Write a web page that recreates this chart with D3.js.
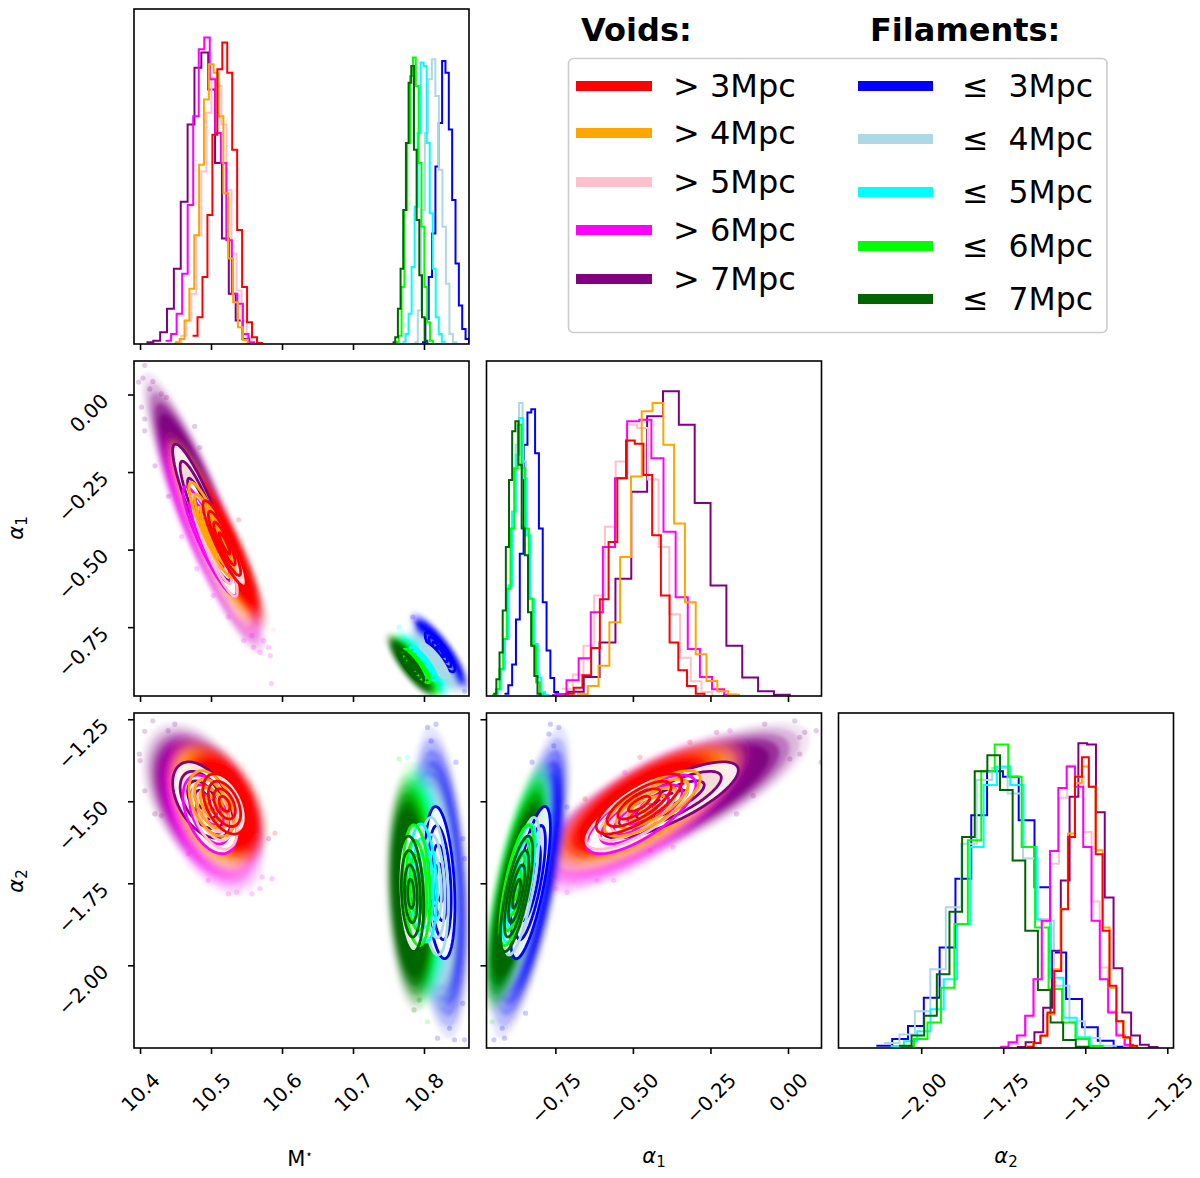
<!DOCTYPE html>
<head>
  <meta charset="utf-8">
  <script src="https://d3js.org/d3.v7.min.js"></script>
  <style>
    body { margin: 0; background: #fff; }
    svg { display: block; }
    text { font-family: "DejaVu Sans", sans-serif; fill: #000; white-space: pre; }
  </style>
</head>

<body>
  <script type='text/javascript'>

    // series, same order in every array below
    var seriesNames = ["red", "orange", "pink", "magenta", "purple", "blue", "lightblue", "cyan", "lime", "darkgreen"];
    var voidLabels = ["> 3Mpc", "> 4Mpc", "> 5Mpc", "> 6Mpc", "> 7Mpc"];
    var filamentLabels = ["\u2264  3Mpc", "\u2264  4Mpc", "\u2264  5Mpc", "\u2264  6Mpc", "\u2264  7Mpc"];

    var massTicks = [10.4, 10.5, 10.6, 10.7, 10.8];
    var alpha1Ticks = [-0.75, -0.5, -0.25, 0];
    var alpha2Ticks = [-2, -1.75, -1.5, -1.25];

    // histogram bins (first edge, bin width, heights in % of panel)
    var massStart = [10.474, 10.449, 10.451, 10.436, 10.409, 10.7972, 10.7863, 10.7698, 10.7604, 10.7557];
    var massStep = [0.00698, 0.00684, 0.00708, 0.00778, 0.00967, 0.00472, 0.00495, 0.00425, 0.00401, 0.00377];
    var massCounts = [
      [2.5, 8, 20, 38.5, 62.5, 82, 90, 81, 58, 34, 17, 6.5, 2, 0.3],
      [0.5, 1.5, 7, 16.5, 32.5, 53.5, 73, 83.5, 81, 68, 45, 25.5, 12.5, 5, 1.2],
      [0.5, 2.5, 7, 15, 32.5, 51.5, 69, 79.5, 77, 65.5, 46, 27, 16, 7, 2, 0.5],
      [1, 3, 9, 21, 41.5, 68, 88, 91.5, 79, 63, 54, 31, 15, 12, 3, 0.5],
      [0.5, 1, 3.5, 10.5, 22.5, 42.5, 65.5, 82.5, 87, 76, 54, 31.5, 15, 7, 1.5],
      [0.5, 7.5, 20, 33, 53, 66, 84.5, 81, 64, 43, 24, 11.5, 4.5, 1.5, 0.3],
      [0.5, 10, 40, 63, 79, 85, 74, 52, 35, 18, 3, 0.5],
      [0.7, 3, 9, 23, 41, 63, 84, 83, 60, 39, 22.5, 8, 3, 0.7],
      [0.5, 2.5, 17, 40, 60, 80, 85.5, 77, 54, 35, 17, 6.5, 1],
      [0.5, 2, 10.5, 22.5, 40, 60, 78, 83, 58, 37, 20.5, 8, 1]
    ];

    var alpha1Start = [-0.7189, -0.6803, -0.7286, -0.7532, -0.7607, -0.914, -0.9461, -0.9483, -0.9536, -0.9504];
    var alpha1Step = [0.0281, 0.0348, 0.0346, 0.0391, 0.0511, 0.01233, 0.0113, 0.0118, 0.0118, 0.0102];
    var alpha1Counts = [
      [0.7, 2.5, 6.2, 14.3, 28.9, 46, 65, 76.3, 75.3, 66, 48, 30, 16, 7.7, 3, 0.7],
      [0.6, 3, 9, 22, 41.5, 65.5, 85, 87.5, 75, 51.5, 28, 12.5, 4.5, 1.4, 0.4],
      [2.2, 6.4, 15, 30, 50.5, 70, 81, 80, 64.6, 44.5, 24.4, 11.4, 4.4, 1.2],
      [0.6, 4.7, 11.3, 25, 44.5, 65, 82, 82.5, 71, 49, 29.5, 14, 5.7, 2, 0.4],
      [0.2, 1.3, 5.7, 16, 35, 61, 83.5, 91, 81, 57.6, 33, 15, 5.5, 1.4, 0.4],
      [0.7, 3.2, 9.4, 22.8, 42.5, 75, 84.6, 85.6, 72.5, 50, 28, 13.6, 5.4, 1.2, 0.3],
      [0.4, 2, 8, 17, 33, 55, 75, 87.5, 70, 48, 29, 15.5, 6.5, 1.2, 0.3],
      [0.4, 2, 8, 17, 33, 55, 72, 83, 65, 48, 29, 15.5, 5.5, 1.2, 0.3],
      [0.3, 2, 8, 17, 32, 50, 68, 81, 68, 50, 29, 15, 4, 0.5],
      [0.7, 5, 13, 25.5, 44.5, 64.5, 79, 82, 69, 50, 42, 25, 15, 6, 0.7]
    ];

    var alpha2Start = [-1.6781, -1.6801, -1.7287, -1.7591, -1.7085, -2.1366, -2.1134, -2.0931, -2.0628, -2.0678];
    var alpha2Step = [0.021, 0.0212, 0.0248, 0.0253, 0.0268, 0.0482, 0.0471, 0.0405, 0.041, 0.0385];
    var alpha2Counts = [
      [0.4, 1.5, 3.7, 10.6, 23, 41.4, 63, 81, 86.8, 78, 57.8, 35, 18.6, 8, 3.2, 0.7],
      [0.4, 1.5, 3.5, 10, 23.5, 41.5, 64, 79, 84, 78, 59, 36, 18, 8, 3, 0.6],
      [1.2, 3.7, 9.6, 20.5, 38.4, 55, 74.7, 84.3, 81, 64.5, 43.7, 24, 11, 4, 0.7],
      [0.4, 1.7, 3.7, 9.6, 20.5, 38, 58.8, 77.6, 84, 78, 60, 38, 20.5, 10.6, 3.7, 1],
      [0.3, 1.7, 4.7, 12, 29, 50, 75, 91, 90.6, 70.4, 44.9, 23.8, 10.6, 3.7, 1, 0.3],
      [0.7, 2.7, 6.6, 15, 30, 50.5, 69.5, 82.6, 81, 68, 48, 28.5, 14.6, 6.2, 2.2, 0.4],
      [1.5, 4, 11, 23.5, 42, 61, 80, 83.6, 76, 56.6, 38, 18.6, 8, 3, 0.7],
      [0.6, 2, 5, 11.6, 20.5, 37, 60, 78.5, 84, 78.5, 60, 38.4, 21, 9, 3.2, 0.7],
      [0.6, 2.7, 7.6, 18, 37, 62, 82.6, 90.6, 81, 60, 36, 17.6, 7.6, 2.7, 0.6],
      [0.7, 3.7, 9.6, 22, 40.7, 63, 82.6, 87.4, 77, 56, 35, 17.3, 7.6, 2.4, 0.4]
    ];

    // centre and width of each cloud
    var meanMass = [10.519, 10.501, 10.505, 10.4985, 10.488, 10.8226, 10.8146, 10.799, 10.7896, 10.7816];
    var sigmaMass = [0.0152, 0.016, 0.016, 0.019, 0.021, 0.0105, 0.0098, 0.0095, 0.0095, 0.009];
    var meanAlpha1 = [-0.48, -0.437, -0.487, -0.473, -0.38, -0.83, -0.859, -0.868, -0.875, -0.875];
    var sigmaAlpha1 = [0.069, 0.077, 0.082, 0.088, 0.11, 0.032, 0.028, 0.027, 0.027, 0.026];
    var meanAlpha2 = [-1.508, -1.507, -1.54, -1.54, -1.496, -1.748, -1.759, -1.749, -1.756, -1.782];
    var sigmaAlpha2 = [0.046, 0.05, 0.053, 0.06, 0.058, 0.116, 0.105, 0.09, 0.092, 0.088];
    var tiltMassAlpha1 = [-0.9, -0.9, -0.9, -0.9, -0.9, -0.85, -0.85, -0.85, -0.85, -0.85];
    var tiltMassAlpha2 = [-0.45, -0.45, -0.45, -0.45, -0.45, -0.3, -0.25, -0.2, -0.2, -0.2];
    var tiltAlpha1Alpha2 = [0.75, 0.75, 0.75, 0.75, 0.78, 0.72, 0.72, 0.72, 0.72, 0.72];

    // single stray samples at the edges of the clouds: series, x, y
    var strayMassAlpha1 = [
      ["purple", 10.4066, 0.094], ["purple", 10.398, 0.04], ["purple", 10.404, 0.053], ["purple", 10.418, 0.042],
      ["purple", 10.4137, 0.018], ["purple", 10.43, 0.002], ["purple", 10.437, -0.009], ["purple", 10.402, -0.041],
      ["purple", 10.4066, -0.079], ["purple", 10.4066, -0.117], ["purple", 10.477, -0.103], ["purple", 10.421, -0.23],
      ["purple", 10.44, -0.328], ["purple", 10.484, -0.171], ["red", 10.539, -0.404],
      ["magenta", 10.4585, -0.458], ["magenta", 10.4797, -0.561], ["magenta", 10.503, -0.648], ["magenta", 10.5245, -0.7176],
      ["magenta", 10.546, -0.793], ["magenta", 10.56, -0.815], ["magenta", 10.569, -0.831], ["magenta", 10.5835, -0.842],
      ["magenta", 10.581, -0.815], ["pink", 10.588, -0.759], ["magenta", 10.585, -0.932], ["magenta", 10.5575, -0.777],
      ["magenta", 10.574, -0.793],
      ["blue", 10.784, -0.7175], ["blue", 10.793, -0.739], ["blue", 10.857, -0.956], ["cyan", 10.765, -0.75]
    ];
    var strayMassAlpha2 = [
      ["purple", 10.418, -1.255], ["purple", 10.4066, -1.287], ["purple", 10.449, -1.265], ["purple", 10.4396, -1.285],
      ["purple", 10.399, -1.356], ["purple", 10.4, -1.376], ["purple", 10.4066, -1.468], ["purple", 10.4208, -1.5385],
      ["purple", 10.43, -1.5436],
      ["magenta", 10.468, -1.66], ["magenta", 10.496, -1.741], ["magenta", 10.5245, -1.782], ["magenta", 10.536, -1.777],
      ["magenta", 10.5575, -1.782], ["magenta", 10.569, -1.766], ["magenta", 10.586, -1.736], ["magenta", 10.572, -1.731],
      ["purple", 10.581, -1.614], ["red", 10.59, -1.597],
      ["blue", 10.805, -1.275], ["blue", 10.817, -1.265], ["blue", 10.81, -1.316], ["blue", 10.845, -1.381],
      ["blue", 10.8547, -1.614], ["blue", 10.857, -1.675], ["blue", 10.843, -2.227], ["blue", 10.857, -2.227],
      ["blue", 10.836, -2.192], ["blue", 10.819, -2.222], ["blue", 10.8547, -2.116],
      ["lime", 10.765, -1.371], ["cyan", 10.777, -1.366], ["lime", 10.805, -2.172], ["darkgreen", 10.786, -2.136],
      ["darkgreen", 10.7934, -2.106]
    ];
    var strayAlpha1Alpha2 = [
      ["blue", -0.766, -1.265], ["blue", -0.739, -1.275], ["blue", -0.771, -1.295], ["blue", -0.755, -1.331],
      ["blue", -0.825, -1.381], ["blue", -0.7125, -1.518], ["blue", -0.948, -2.227], ["blue", -0.914, -2.222],
      ["blue", -0.9215, -2.192], ["blue", -0.846, -2.146], ["lime", -0.954, -2.172],
      ["purple", 0.022, -1.255], ["purple", 0.091, -1.285], ["purple", 0.054, -1.29], ["purple", -0.075, -1.265],
      ["purple", 0.038, -1.305], ["purple", 0.006, -1.371], ["purple", 0.038, -1.356], ["magenta", -0.187, -1.285],
      ["purple", -0.23, -1.29], ["red", -0.316, -1.32], ["red", -0.477, -1.366], ["magenta", -0.526, -1.412],
      ["red", -0.654, -1.493], ["purple", -0.166, -1.5385], ["purple", -0.112, -1.483], ["purple", 0.107, -1.381],
      ["magenta", -0.37, -1.64], ["magenta", -0.562, -1.741], ["magenta", -0.7125, -1.777], ["magenta", -0.75, -1.766],
      ["magenta", -0.616, -1.741], ["magenta", -0.4445, -1.65]
    ];

    var width = 1200, height = 1178;
    var panelSize = 335;
    var colX = [134, 486.5, 838.5];
    var rowY = [9, 361, 713];

    var massRange = [10.3915, 10.8634];
    var alpha1Range = [-0.972, 0.108];
    var alpha2Range = [-2.252, -1.231];

    var svg = d3.select("body").append("svg").attr("width", width).attr("height", height);

    var defs = svg.append("defs");
    defs.append("filter").attr("id", "soft")
      .attr("x", "-20%").attr("y", "-20%").attr("width", "140%").attr("height", "140%")
      .append("feGaussianBlur").attr("stdDeviation", 2);
    defs.append("clipPath").attr("id", "panelClip")
      .append("rect").attr("width", panelSize).attr("height", panelSize);

    var xScale = function(range) { return d3.scaleLinear().domain(range).range([0, panelSize]); };
    var yScale = function(range) { return d3.scaleLinear().domain(range).range([panelSize, 0]); };

    // draw order, later ones on top
    var cloudOrder = ["purple", "magenta", "pink", "orange", "red", "blue", "lightblue", "cyan", "lime", "darkgreen"];
    var histOrder = ["blue", "lightblue", "cyan", "lime", "darkgreen", "purple", "pink", "magenta", "orange", "red"];
    var voidNames = seriesNames.slice(0, 5);

    function panel(col, row) {
      return svg.append("g").attr("transform", "translate(" + colX[col] + "," + rowY[row] + ")");
    }

    // ellipse at k widths around a centre, in data units, through the scales
    function ellipsePath(x, y, mx, my, sx, sy, rho, k) {
      var pts = d3.range(0, 72).map(function(i) {
        var t = i / 72 * 2 * Math.PI;
        return [x(mx + k * sx * Math.cos(t)),
                y(my + k * sy * (rho * Math.cos(t) + Math.sqrt(1 - rho * rho) * Math.sin(t)))];
      });
      return d3.line().curve(d3.curveLinearClosed)(pts);
    }

    function drawFrame(g) {
      g.append("rect").attr("width", panelSize).attr("height", panelSize)
        .attr("fill", "none").attr("stroke", "#000").attr("stroke-width", 1.6);
    }

    function styleAxis(a) {
      a.select(".domain").remove();
      a.selectAll(".tick line").attr("stroke", "#000").attr("stroke-width", 1.6);
    }

    function tickText(d) { return d3.format(".2f")(d).replace("-", "\u2212"); }

    function bottomAxis(g, x, ticks, labelled, fmt) {
      var a = g.append("g").attr("transform", "translate(0," + panelSize + ")")
        .call(d3.axisBottom(x).tickValues(ticks).tickSize(6).tickSizeOuter(0)
          .tickFormat(labelled ? fmt : ""));
      styleAxis(a);
      a.selectAll("text").attr("font-size", 20).each(function() {
        var b = this.getBBox();
        var half = (b.width + b.height) * Math.SQRT1_2 / 2;
        d3.select(this).attr("text-anchor", "middle").attr("dominant-baseline", "central")
          .attr("x", 0).attr("y", 0).attr("dy", null)
          .attr("transform", "translate(0," + (20 + half) + ") rotate(-45)");
      });
    }

    // labels hang below their tick, right edge against the column
    function leftAxis(g, y, ticks, labelled) {
      var a = g.append("g")
        .call(d3.axisLeft(y).tickValues(ticks).tickSize(6).tickSizeOuter(0)
          .tickFormat(labelled ? tickText : ""));
      styleAxis(a);
      a.selectAll("text").attr("font-size", 20).each(function() {
        var b = this.getBBox();
        var half = (b.width + 15) * Math.SQRT1_2 / 2;
        d3.select(this).attr("text-anchor", "middle").attr("dominant-baseline", "central")
          .attr("x", 0).attr("y", 0).attr("dy", null)
          .attr("transform", "translate(" + (-(24 + half)) + "," + (half - 3) + ") rotate(-45)");
      });
    }

    function drawHist(col, row, range, ticks, starts, steps, counts, labelled, fmt) {
      var g = panel(col, row);
      var x = xScale(range);
      var y = d3.scaleLinear().domain([0, 100]).range([panelSize, 0]);
      var plot = g.append("g").attr("clip-path", "url(#panelClip)");
      var line = d3.line().curve(d3.curveStepAfter).x(function(d) { return x(d[0]); }).y(function(d) { return y(d[1]); });
      histOrder.forEach(function(name) {
        var i = seriesNames.indexOf(name);
        var pts = counts[i].map(function(c, j) { return [starts[i] + j * steps[i], c]; });
        pts.push([starts[i] + counts[i].length * steps[i], 0]);
        plot.append("path").attr("d", line(pts)).attr("fill", "none")
          .attr("stroke", name).attr("stroke-width", 2);
      });
      drawFrame(g);
      bottomAxis(g, x, ticks, labelled, fmt);
    }

    function drawPair(col, row, xr, yr, mx, sx, my, sy, tilt, stray, xTicks, yTicks, xLabelled, yLabelled, fmt, whitened) {
      var g = panel(col, row);
      var x = xScale(xr), y = yScale(yr);
      var plot = g.append("g").attr("clip-path", "url(#panelClip)");

      // sample clouds, soft nested shapes
      var clouds = plot.append("g").attr("filter", "url(#soft)");
      cloudOrder.forEach(function(name) {
        var i = seriesNames.indexOf(name);
        [[4.1, 0.1], [3.8, 0.2], [3.5, 0.35], [3.2, 0.6], [2.9, 0.9]].forEach(function(lev) {
          clouds.append("path").attr("d", ellipsePath(x, y, mx[i], my[i], sx[i], sy[i], tilt[i], lev[0]))
            .attr("fill", name).attr("fill-opacity", lev[1]);
        });
      });
      plot.selectAll(".stray").data(stray).join("circle")
        .attr("cx", function(d) { return x(d[1]); }).attr("cy", function(d) { return y(d[2]); })
        .attr("r", 2.6).attr("fill", function(d) { return d[0]; }).attr("fill-opacity", 0.2);

      // whitened inside of the outer contour
      cloudOrder.filter(function(name) { return whitened.indexOf(name) >= 0; }).forEach(function(name) {
        var i = seriesNames.indexOf(name);
        plot.append("path").attr("d", ellipsePath(x, y, mx[i], my[i], sx[i], sy[i], tilt[i], 2))
          .attr("fill", "#fff").attr("fill-opacity", 0.88);
        plot.append("path").attr("d", ellipsePath(x, y, mx[i], my[i], sx[i], sy[i], tilt[i], 1.5))
          .attr("fill", name).attr("fill-opacity", 0.08);
      });
      // contour lines
      cloudOrder.forEach(function(name) {
        var i = seriesNames.indexOf(name);
        [2, 1.5, 1, 0.5].forEach(function(k) {
          plot.append("path").attr("d", ellipsePath(x, y, mx[i], my[i], sx[i], sy[i], tilt[i], k))
            .attr("fill", "none").attr("stroke", name).attr("stroke-width", 2.8);
        });
      });

      drawFrame(g);
      bottomAxis(g, x, xTicks, xLabelled, fmt);
      leftAxis(g, y, yTicks, yLabelled);
    }

    var massFmt = d3.format(".1f");

    drawHist(0, 0, massRange, massTicks, massStart, massStep, massCounts, false);
    drawHist(1, 1, alpha1Range, alpha1Ticks, alpha1Start, alpha1Step, alpha1Counts, false);
    drawHist(2, 2, alpha2Range, alpha2Ticks, alpha2Start, alpha2Step, alpha2Counts, true, tickText);

    drawPair(0, 1, massRange, alpha1Range, meanMass, sigmaMass, meanAlpha1, sigmaAlpha1, tiltMassAlpha1,
      strayMassAlpha1, massTicks, alpha1Ticks, false, true, null, voidNames);
    drawPair(0, 2, massRange, alpha2Range, meanMass, sigmaMass, meanAlpha2, sigmaAlpha2, tiltMassAlpha2,
      strayMassAlpha2, massTicks, alpha2Ticks, true, true, massFmt, seriesNames);
    drawPair(1, 2, alpha1Range, alpha2Range, meanAlpha1, sigmaAlpha1, meanAlpha2, sigmaAlpha2, tiltAlpha1Alpha2,
      strayAlpha1Alpha2, alpha1Ticks, alpha2Ticks, true, false, tickText, seriesNames);

    // axis names
    function axisName(g, base, sup, sub) {
      var t = g.append("text").attr("font-size", 21).attr("text-anchor", "middle");
      t.append("tspan").attr("font-style", base === "\u03b1" ? "italic" : null).text(base);
      if (sup) t.append("tspan").attr("font-size", 12).attr("dy", -8).text(sup);
      if (sub) t.append("tspan").attr("font-size", 15).attr("dy", 4).text(sub);
    }
    axisName(svg.append("g").attr("transform", "translate(300,1166)"), "M", "\u22c6");
    axisName(svg.append("g").attr("transform", "translate(654,1163)"), "\u03b1", null, "1");
    axisName(svg.append("g").attr("transform", "translate(1006,1163)"), "\u03b1", null, "2");
    axisName(svg.append("g").attr("transform", "translate(23,528) rotate(-90)"), "\u03b1", null, "1");
    axisName(svg.append("g").attr("transform", "translate(23,881) rotate(-90)"), "\u03b1", null, "2");

    // legend
    var legend = svg.append("g");
    legend.append("rect").attr("x", 568.5).attr("y", 58.5).attr("width", 538.5).attr("height", 274)
      .attr("rx", 5).attr("fill", "#fff").attr("stroke", "#ccc").attr("stroke-width", 1.6);
    legend.append("text").attr("x", 581).attr("y", 41).attr("font-size", 32).attr("font-weight", "bold").text("Voids:");
    legend.append("text").attr("x", 870).attr("y", 41).attr("font-size", 32).attr("font-weight", "bold").text("Filaments:");

    function legendColumn(labels, colors, x0, x1, textX, yPos, size) {
      labels.forEach(function(label, i) {
        legend.append("line").attr("x1", x0).attr("x2", x1).attr("y1", yPos[i]).attr("y2", yPos[i])
          .attr("stroke", colors[i]).attr("stroke-width", 10);
        legend.append("text").attr("x", textX).attr("y", yPos[i] + 11).attr("font-size", size).text(label);
      });
    }
    legendColumn(voidLabels, seriesNames.slice(0, 5), 576, 652, 673, [86, 133, 182, 230, 279], 32);
    legendColumn(filamentLabels, seriesNames.slice(5), 858, 933, 962, [86, 139, 192, 246, 299], 31.5);

  </script>
</body>
